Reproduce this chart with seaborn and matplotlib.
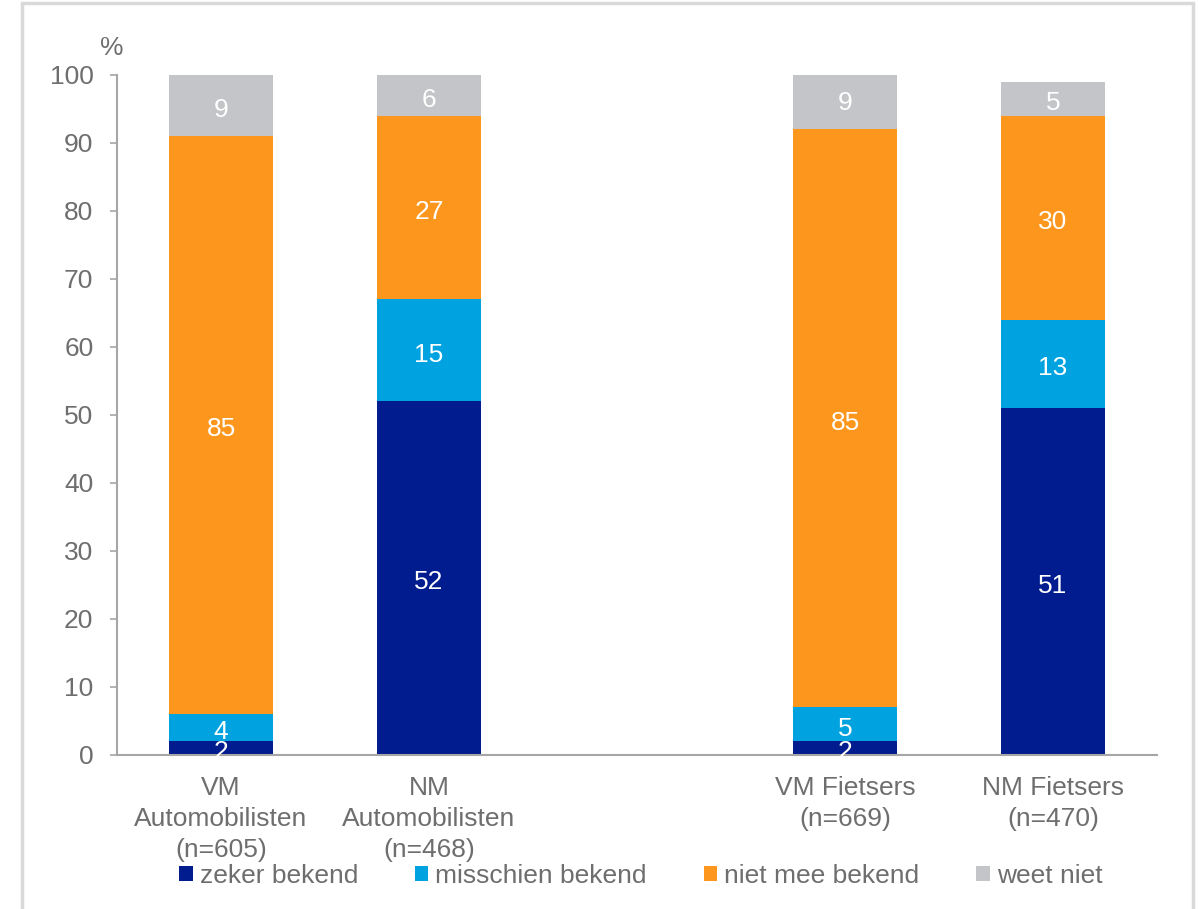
import matplotlib
matplotlib.use("Agg")
import matplotlib.pyplot as plt
import matplotlib.patches as mpatches
import matplotlib.transforms as mtransforms
import seaborn as sns
import pandas as pd
import numpy as np

# ---- data ----
categories = ["VM\nAutomobilisten\n(n=605)", "NM\nAutomobilisten\n(n=468)",
              "VM Fietsers\n(n=669)", "NM Fietsers\n(n=470)"]
series_names = ["zeker bekend", "misschien bekend", "niet mee bekend", "weet niet"]
zeker = [2, 52, 2, 51]
misschien = [4, 15, 5, 13]
niet_mee = [85, 27, 85, 30]
weet_niet = [9, 6, 9, 5]
yticks = list(range(0, 101, 10))

colors = ["#001C8E", "#00A2DF", "#FC961D", "#C4C5C8"]
text_gray = "#6E6E6E"
spine_gray = "#A6A6A6"
FS = 19

sns.set_theme(style="white")
plt.rcParams["font.family"] = ["Liberation Sans", "DejaVu Sans"]

gap = " "
order = [categories[0], categories[1], gap, categories[2], categories[3]]

values = np.array([zeker, misschien, niet_mee, weet_niet], dtype=float)
cum = np.cumsum(values, axis=0)

fig = plt.figure(figsize=(11.98, 9.09), dpi=100)
ax = fig.add_axes([117 / 1198, 1 - 755 / 909, 1040 / 1198, 680 / 909])

# draw cumulative bars from top layer to bottom layer
for k in range(len(series_names) - 1, -1, -1):
    df = pd.DataFrame({"cat": categories, "val": cum[k]})
    sns.barplot(data=df, x="cat", y="val", order=order, color=colors[k],
                saturation=1, width=0.5, ax=ax, errorbar=None, linewidth=0)

# value labels (slightly lowered like the reference)
lab_tr = mtransforms.offset_copy(ax.transData, fig=fig, x=0, y=-3, units="points")
for k in range(len(series_names)):
    for j, cat in enumerate(categories):
        i = order.index(cat)
        bottom = cum[k][j] - values[k][j]
        ax.text(i, bottom + values[k][j] / 2, f"{int(values[k][j])}",
                ha="center", va="center", color="white", fontsize=FS,
                transform=lab_tr)

ax.set_ylim(0, 100)
ax.set_xlim(-0.5, 4.5)
ax.set_yticks(yticks)
ax.set_yticklabels([str(t) for t in yticks])
ax.set_xlabel("")
ax.set_ylabel("")
ax.tick_params(axis="y", length=5, width=1.2, color=spine_gray, pad=12,
               labelsize=FS, labelcolor=text_gray, left=True, direction="out")
ax.tick_params(axis="x", length=0, pad=15, labelsize=FS, labelcolor=text_gray)
for lbl in ax.get_xticklabels():
    lbl.set_linespacing(1.38)
sns.despine(ax=ax)
for s in ["left", "bottom"]:
    ax.spines[s].set_color(spine_gray)
    ax.spines[s].set_linewidth(1.5)

ax.text(-0.005, 1.04, "%", transform=ax.transAxes, ha="center", va="center",
        fontsize=FS, color=text_gray)

# legend
handles = [mpatches.Patch(facecolor=c, edgecolor="none") for c in colors]
fig.legend(handles, series_names, loc="center", ncol=4,
           bbox_to_anchor=(0.535, 1 - 876 / 909), frameon=False,
           fontsize=FS, labelcolor=text_gray, handlelength=0.5,
           handleheight=0.5, handletextpad=0.27, columnspacing=2.16)

# outer frame
frame = mpatches.Rectangle((22 / 1198, -0.05), (1193 - 22) / 1198, 1 - 3 / 909 + 0.05,
                           transform=fig.transFigure, fill=False,
                           edgecolor="#D9D9D9", linewidth=2.5, clip_on=False)
fig.patches.append(frame)

fig.savefig("out.png", dpi=100)
